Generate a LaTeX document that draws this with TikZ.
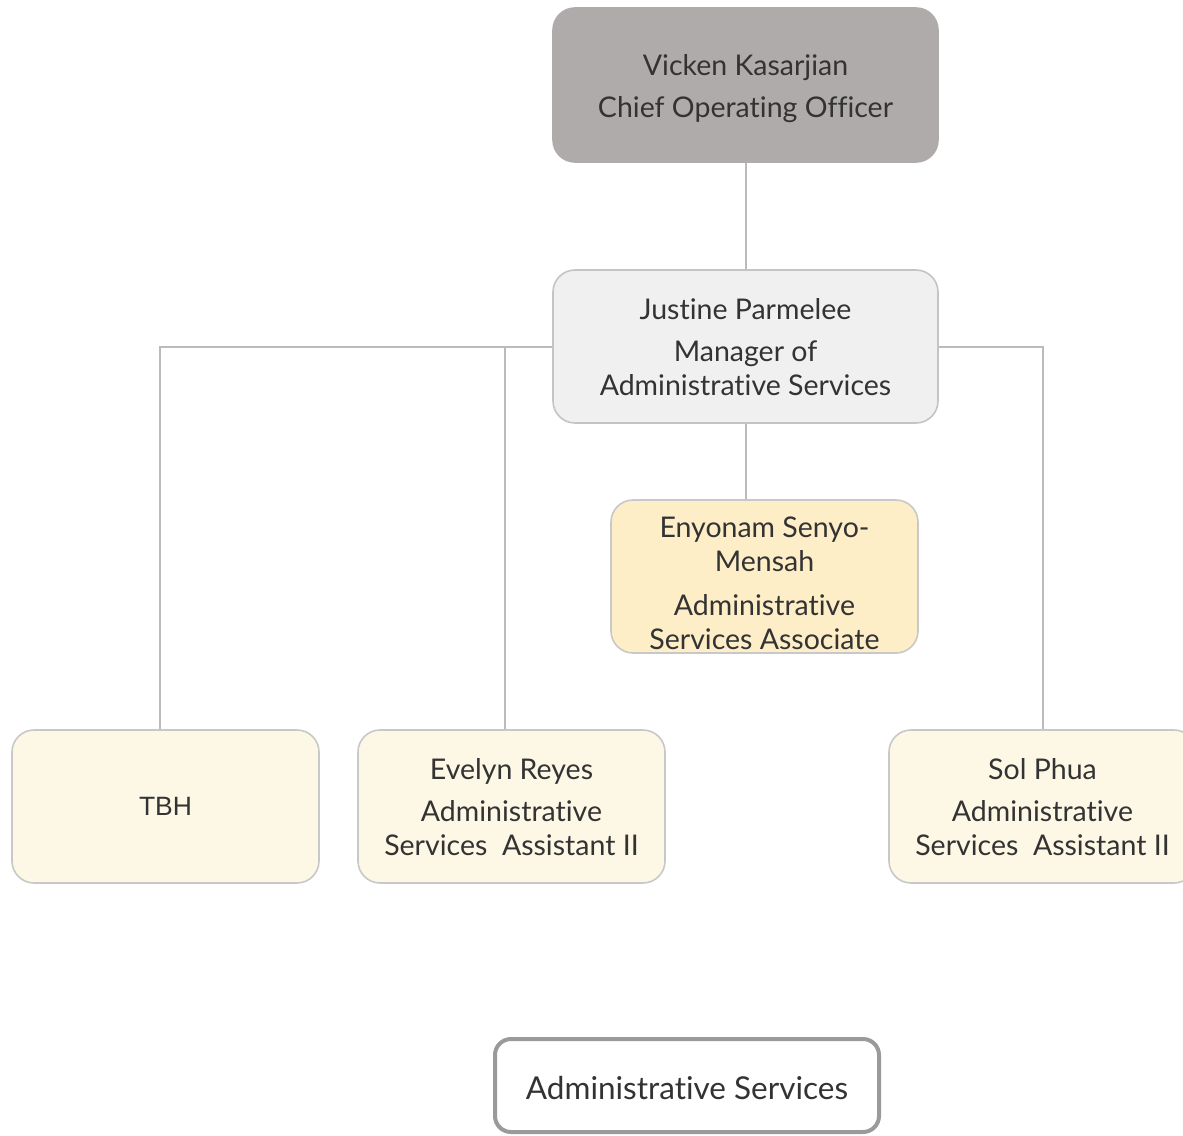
\documentclass[tikz,border=0pt]{standalone}
\usepackage{fontspec}
\setmainfont{Lato}[Ligatures=NoCommon]
\newfontfamily\plainsans{Liberation Sans}
\definecolor{ink}{HTML}{333333}
\definecolor{cooFill}{HTML}{B0ABAB}
\definecolor{mgrFill}{HTML}{F0F0F0}
\definecolor{mgrEdge}{HTML}{C4C4C4}
\definecolor{assocFill}{HTML}{FDEEC7}
\definecolor{staffFill}{HTML}{FDF7E5}
\definecolor{boxEdge}{HTML}{C8C8C8}
\definecolor{wire}{HTML}{BBBBBB}
\definecolor{legendEdge}{HTML}{9A9A9A}
\tikzset{
  card/.style={rectangle, rounded corners=22pt, line width=1.6pt,
    minimum width=307pt, minimum height=153pt, inner sep=0pt},
  cardtext/.style={text=ink, align=center, inner sep=0pt,
    font=\fontsize{28.5}{34}\selectfont},
  coobox/.style={card, fill=cooFill, draw=cooFill, minimum width=385pt, minimum height=154pt},
  mgrbox/.style={card, fill=mgrFill, draw=mgrEdge, minimum width=385pt},
  assocbox/.style={card, fill=assocFill, draw=boxEdge},
  staffbox/.style={card, fill=staffFill, draw=boxEdge},
  legendbox/.style={card, fill=white, draw=legendEdge, line width=4pt,
    rounded corners=16pt, minimum width=384pt, minimum height=93pt},
  wireline/.style={draw=wire, line width=2pt}
}
\begin{document}
\begin{tikzpicture}[x=1pt,y=-1pt]
\useasboundingbox (0,0) rectangle (1183,1135);
\clip (0,0) rectangle (1183,1135);

% boxes
\node[coobox] (coo) at (745.5,85) {};
\node[mgrbox] (mgr) at (745.5,346.5) {};
\node[assocbox] (assoc) at (764.5,576.5) {};
\node[staffbox] (tbh) at (165.5,806.5) {};
\node[staffbox] (evelyn) at (511.5,806.5) {};
\node[staffbox] (sol) at (1042.5,806.5) {};
\node[legendbox] (legend) at (687,1085.5) {};

% box texts
\node[cardtext] (cooText) at ([yshift=-4pt]coo.center) {Vicken Kasarjian\\[8pt]Chief Operating Officer};
\node[cardtext] (mgrText) at ([yshift=-1pt]mgr.center) {Justine Parmelee\\[8pt]Manager of\\Administrative Services};
\node[cardtext] (assocText) at ([yshift=-7pt]assoc.center) {Enyonam Senyo-\\Mensah\\[10pt]Administrative\\Services Associate};
\node[cardtext, font=\plainsans\fontsize{26.5}{30}\selectfont] (tbhText) at (tbh.center) {TBH};
\node[cardtext] (evelynText) at ([yshift=-1pt]evelyn.center) {Evelyn Reyes\\[8pt]Administrative\\Services\ \ Assistant II};
\node[cardtext] (solText) at ([yshift=-1pt]sol.center) {Sol Phua\\[8pt]Administrative\\Services\ \ Assistant II};
\node[cardtext, font=\fontsize{31.5}{38}\selectfont] (legendText) at ([yshift=-3pt]legend.center) {Administrative Services};

% reporting lines
\begin{scope}[on background layer/.try]
\draw[wireline] (coo.south) -- (mgr.north);
\draw[wireline] (mgr.south) -- ([xshift=-19pt]assoc.north);
\draw[wireline] (mgr.west) -| ([xshift=-6pt]tbh.north);
\draw[wireline] ([xshift=-6.5pt]evelyn.north) -- ([xshift=-6.5pt]evelyn.north |- mgr.west);
\draw[wireline] (mgr.east) -| (sol.north);
\end{scope}
\end{tikzpicture}
\end{document}
